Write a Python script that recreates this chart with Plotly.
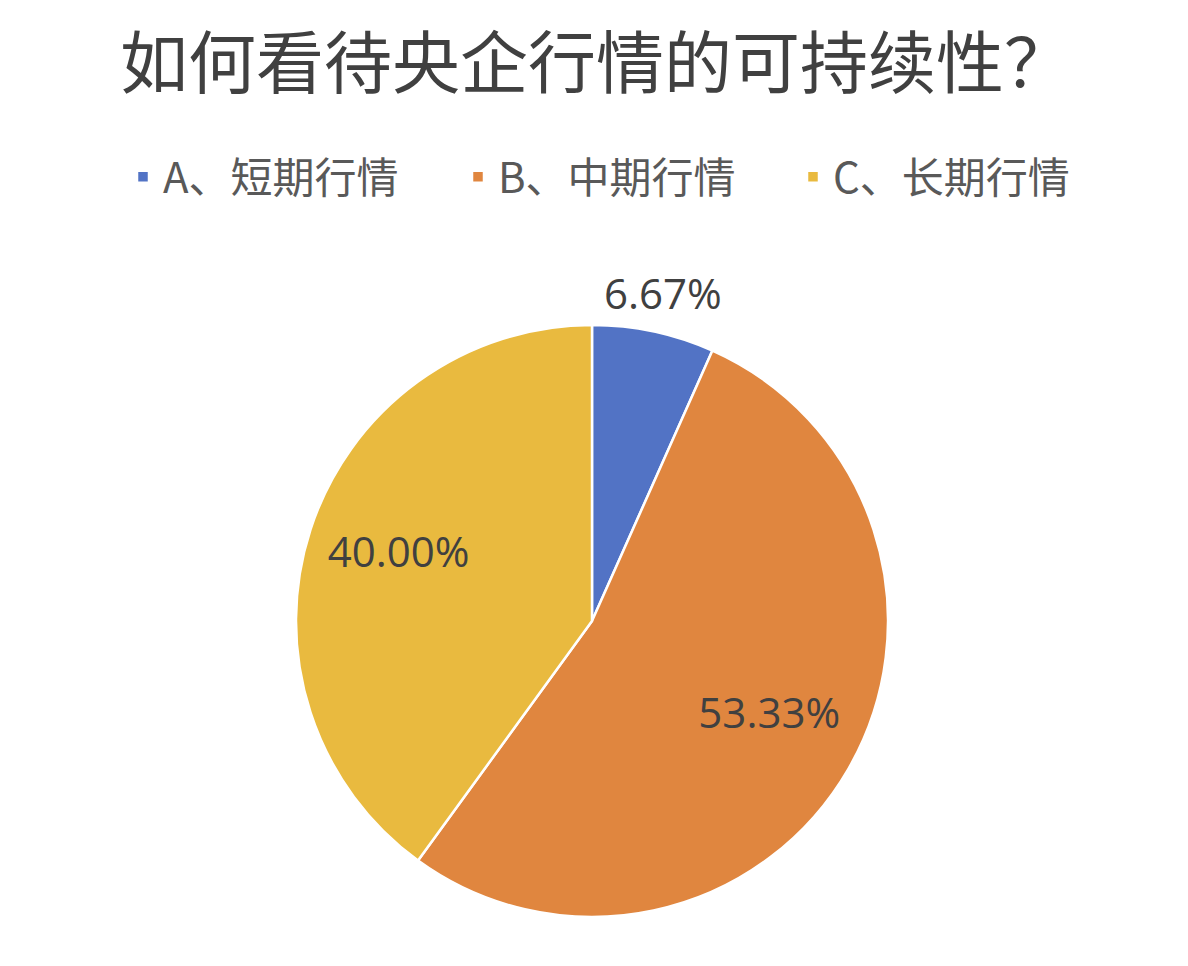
import math
import plotly.graph_objects as go

labels = ["A、短期行情", "B、中期行情", "C、长期行情"]
values = [6.67, 53.33, 40.00]
colors = ["#5273C5", "#E0863F", "#E9BA3F"]

W, H = 1188, 966
cx, cy, r = 592, 620, 296   # where the pie lands on the page
dx, dy = 8, 7               # plotly draws the pie a little off its domain centre

# padding nudges the inside labels toward where the original chart put them
sp = "\u00a0"
templates = [
    "",
    "<span style='font-size:22px'> </span><br>" + sp * 9 + "%{value:.2f}%",
    "%{value:.2f}%" + sp * 9 + "<br><span style='font-size:16px'> </span>",
]

fig = go.Figure()
fig.add_trace(go.Pie(
    labels=labels,
    values=values,
    sort=False,
    direction="clockwise",
    rotation=0,
    marker=dict(colors=colors, line=dict(color="white", width=2.5)),
    texttemplate=templates,
    textposition="inside",
    insidetextorientation="horizontal",
    textfont=dict(family="Open Sans, Noto Sans", size=42, color="#404040"),
    domain=dict(x=[(cx - dx - r) / W, (cx - dx + r) / W],
                y=[(H - cy + dy - r) / H, (H - cy + dy + r) / H]),
    hoverinfo="label+percent",
))

# the small slice's label sits just outside the rim, on its mid angle
mid = 360 * (values[0] / 2) / sum(values)
lx = cx + 1.16 * r * math.sin(math.radians(mid)) - 8
ly = cy - 1.16 * r * math.cos(math.radians(mid))
fig.add_annotation(x=lx / W, y=1 - ly / H, xref="paper", yref="paper",
                   xanchor="center", yanchor="middle",
                   text=f"{values[0]:.2f}%", showarrow=False,
                   font=dict(family="Open Sans, Noto Sans", size=42, color="#404040"))

fig.update_layout(
    width=W, height=H,
    margin=dict(l=0, r=0, t=0, b=0),
    paper_bgcolor="white",
    title=dict(text="如何看待央企行情的可持续性？", x=0.495, xanchor="center",
               y=1 - 56 / H, yanchor="middle",
               font=dict(family="Noto Sans CJK SC", size=68, color="#404040")),
    legend=dict(orientation="h", x=115 / W, xanchor="left", y=1 - 169 / H, yanchor="middle",
                font=dict(family="Noto Sans CJK SC", size=42, color="#595959"),
                entrywidth=290, entrywidthmode="pixels",
                itemwidth=30, traceorder="normal"),
)

fig.write_html("out.html")
